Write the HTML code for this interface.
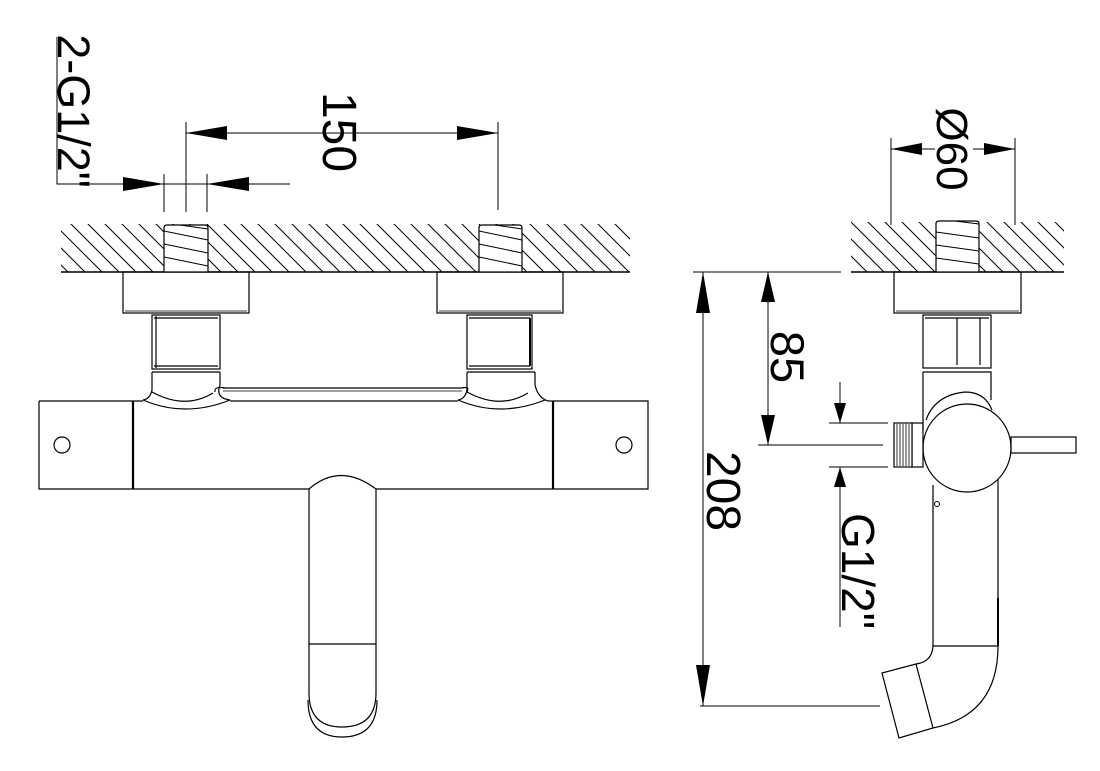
<!DOCTYPE html>
<html><head><meta charset="utf-8"><style>html,body{margin:0;padding:0;background:#fff}svg{display:block}</style></head><body>
<svg width="1100" height="771" viewBox="0 0 1100 771" xmlns="http://www.w3.org/2000/svg" font-family="Liberation Sans, sans-serif">
<defs>
<pattern id="h" patternUnits="userSpaceOnUse" width="17" height="17">
<path d="M-2,-2 L19,19 M-19,-2 L2,19 M15,-2 L36,19" stroke="#000" stroke-width="1"/>
</pattern>
</defs>
<g fill="none" stroke="#000" stroke-width="1.2">
<rect x="61" y="224" width="569" height="48" fill="url(#h)" stroke="none"/>
<line x1="61" y1="272" x2="630" y2="272" stroke-width="1.5"/>
<rect x="851" y="222" width="213" height="50" fill="url(#h)" stroke="none"/>
<line x1="851" y1="272" x2="1064" y2="272" stroke-width="1.5"/>

<g fill="#fff">
<path d="M164,272 V228 Q164,225 167,225 H205 Q208,225 208,228 V272"/>
<path d="M479,272 V228 Q479,225 482,225 H519 Q522,225 522,228 V272"/>
<path d="M936,272 V224 Q936,221 939,221 H976 Q979,221 979,224 V272"/>
</g>
<g stroke-width="1">
<path d="M164,231 L208,240 M164,244 L208,253 M164,257 L208,266 M180,225 L208,229"/>
<path d="M479,231 L522,240 M479,244 L522,253 M479,257 L522,266 M495,225 L522,229"/>
<path d="M936,232 L979,238 M936,245 L979,251 M936,258 L979,264 M955,221 L979,224"/>
</g>

<rect x="123" y="272" width="126" height="41"/>
<rect x="437" y="272" width="126" height="41"/>
<line x1="125" y1="311" x2="247" y2="311" stroke-width="0.8"/>
<line x1="439" y1="311" x2="561" y2="311" stroke-width="0.8"/>
<rect x="152" y="315" width="68" height="54"/>
<line x1="154" y1="318" x2="218" y2="318"/>
<line x1="156" y1="316" x2="156" y2="368"/>
<line x1="154" y1="366" x2="218" y2="366"/>
<rect x="467" y="315" width="65" height="54"/>
<line x1="469" y1="318" x2="530" y2="318"/>
<line x1="469" y1="366" x2="530" y2="366"/>
<line x1="530" y1="318" x2="530" y2="366" stroke-width="2"/>
<path d="M152,372 V390 Q150,399 143,400 M152,392 Q185,410 213,393 M143,400 Q185,418 230,400 M220,372 V385 Q215,398 230,400 M215,392 Q214,386 225,388"/>
<path d="M152,372 H220"/>
<path d="M467,372 V390 Q465,399 458,400 M467,392 Q500,410 528,393 M458,400 Q500,418 545,400 M535,372 V385 Q538,398 548,401 M462,388 Q470,386 467,392"/>
<path d="M467,372 H535"/>
<line x1="223" y1="388" x2="462" y2="388"/>
<line x1="223" y1="391" x2="462" y2="391" stroke-width="0.8"/>
<path d="M39,401 H143 M230,401 H458 M548,401 H648 V489 H376 M309,489 H39 V401"/>
<line x1="133" y1="401" x2="133" y2="489" stroke-width="2.2"/>
<line x1="553" y1="401" x2="553" y2="489" stroke-width="2.2"/>
<circle cx="62" cy="445" r="8"/>
<circle cx="624" cy="445" r="8"/>
<path d="M309,489 Q340,462 376,489"/>
<path d="M309,489 V693 Q309,727 342,727 Q376,727 376,693 V489"/>
<path d="M308,700 Q308,737 342,737 Q377,737 377,700"/>
<line x1="309" y1="644" x2="376" y2="644"/>

<rect x="894" y="272" width="127" height="41"/>
<line x1="896" y1="311" x2="1019" y2="311" stroke-width="0.8"/>
<rect x="923" y="315" width="68" height="53"/>
<line x1="957" y1="318" x2="957" y2="365"/>
<line x1="980" y1="318" x2="980" y2="365"/>
<line x1="925" y1="318" x2="989" y2="318"/>
<path d="M923,372 H991 V400 M923,372 V430"/>
<path d="M933,485 V646 M998,470 V646"/>
<path d="M926,420 Q935,395 965,392 Q985,392 992,410"/>
<circle cx="967" cy="448" r="44" fill="#fff"/>
<rect x="1011" y="437" width="65" height="16"/>
<rect x="912" y="423" width="11" height="44"/>
<rect x="894" y="423" width="18" height="44" fill="#fff"/>
<path d="M897,424 V466 M900,424 V466 M903,424 V466 M906,424 V466 M909,424 V466" stroke-width="0.8"/>
<circle cx="937" cy="504" r="2.5" stroke-width="1"/>
<line x1="998" y1="598" x2="998" y2="646" stroke-width="2"/>
<line x1="933" y1="646" x2="998" y2="646"/>
<path d="M998,646 Q998,715 933,728"/>
<path d="M933,646 Q932,662 916,664"/>
<path d="M882,673 L916,664 L933,728 L899,738 Z"/>
</g>

<g stroke="#000" stroke-width="1" fill="none">
<path d="M57,37 V184 H290"/>
<path d="M164,174 V212 M186,122 V212 M207,174 V212 M498,122 V210"/>
<path d="M186,133 H498"/>
<path d="M693,272 H841 M758,445 H883 M700,706 H880"/>
<path d="M703,272 V706 M768,272 V445"/>
<path d="M829,423 H888 M829,467 H888 M840,382 V423 M840,467 V627"/>
<path d="M891,138 V225 M1015,138 V225 M891,149 H935 M973,149 H1015"/>
</g>
<g fill="#000">
<path d="M164,184 L123,177 L123,191 Z"/>
<path d="M207,184 L249,177 L249,191 Z"/>
<path d="M186,133 L227,126 L227,140 Z"/>
<path d="M498,133 L457,126 L457,140 Z"/>
<path d="M703,272 L696,313 L710,313 Z"/>
<path d="M703,706 L696,665 L710,665 Z"/>
<path d="M768,272 L761,302 L775,302 Z"/>
<path d="M768,445 L761,415 L775,415 Z"/>
<path d="M840,423 L834,403 L846,403 Z"/>
<path d="M840,467 L834,487 L846,487 Z"/>
<path d="M891,149 L922,143 L922,155 Z"/>
<path d="M1015,149 L984,143 L984,155 Z"/>
</g>
<g fill="#000" text-anchor="middle">
<text transform="translate(58,111) rotate(90)" font-size="45">2-G1/2"</text>
<text transform="translate(323,132) rotate(90)" font-size="48">150</text>
<text transform="translate(771,357) rotate(90)" font-size="47">85</text>
<text transform="translate(707,491) rotate(90)" font-size="48">208</text>
<text transform="translate(842,571) rotate(90)" font-size="46">G1/2"</text>
<text transform="translate(937,149) rotate(90)" font-size="44">Ø60</text>
</g>
</svg>
</body></html>
